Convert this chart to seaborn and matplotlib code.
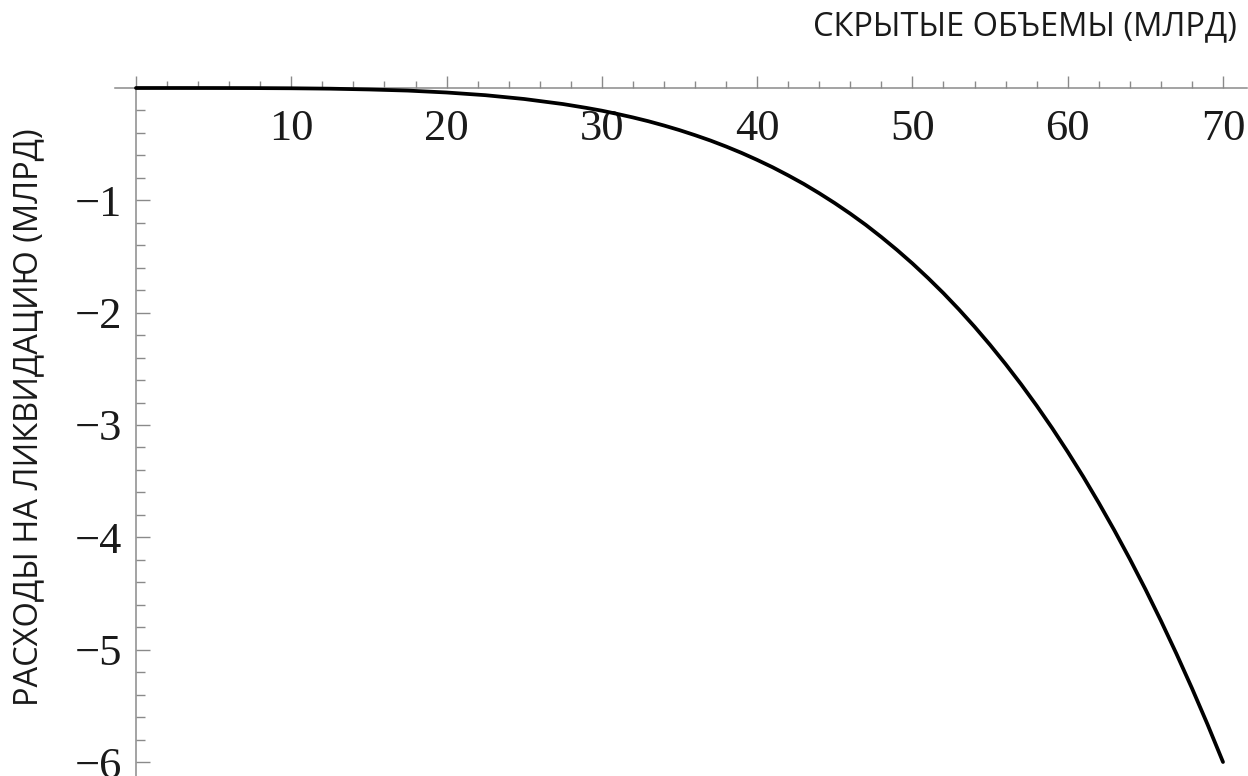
import numpy as np
import pandas as pd
import matplotlib
matplotlib.use("Agg")
import matplotlib.pyplot as plt
import seaborn as sns
from matplotlib.ticker import MultipleLocator, FixedLocator

# Data
hidden_volume = [0, 2.5, 5, 7.5, 10, 12.5, 15, 17.5, 20, 22.5, 25, 27.5, 29,
                 30, 31, 32, 33, 34, 35, 36, 37, 38, 39, 40, 41, 42, 43, 44, 45,
                 46, 47, 48, 49, 50, 51, 52, 53, 54, 55, 56, 57, 58, 59, 60,
                 61, 62, 63, 64, 65, 66, 67, 68, 69, 70]
liquidation_cost = [0.0, 0.0, -0.0002, -0.0008, -0.0025, -0.006, -0.013, -0.023, -0.040,
                    -0.064, -0.098, -0.143, -0.177,
                    -0.202, -0.231, -0.262, -0.296, -0.334, -0.375, -0.420, -0.468,
                    -0.521, -0.578, -0.640, -0.706, -0.778, -0.854, -0.937, -1.025,
                    -1.119, -1.219, -1.327, -1.441, -1.562, -1.691, -1.827, -1.972,
                    -2.125, -2.287, -2.458, -2.638, -2.828, -3.028, -3.239,
                    -3.460, -3.693, -3.937, -4.193, -4.461, -4.742, -5.036, -5.343,
                    -5.664, -6.0]
x_tick_values = [10, 20, 30, 40, 50, 60, 70]
y_tick_values = [-1, -2, -3, -4, -5, -6]
x_label = "СКРЫТЫЕ ОБЪЕМЫ (МЛРД)"
y_label = "РАСХОДЫ НА ЛИКВИДАЦИЮ (МЛРД)"

df = pd.DataFrame({"x": hidden_volume, "y": liquidation_cost})

sns.set_style("white")
plt.rcParams['font.family'] = ['Open Sans', 'DejaVu Sans']

W, H = 1248, 776
fig = plt.figure(figsize=(W / 100, H / 100), dpi=100)
ax_left, ax_right = 115, 1247
ax_top, ax_bot = 75, 776
ax = fig.add_axes([ax_left / W, 1 - ax_bot / H, (ax_right - ax_left) / W, (ax_bot - ax_top) / H])

sns.lineplot(data=df, x="x", y="y", ax=ax, color="black", linewidth=2.7, zorder=5)

# limits so that x=0 -> px136, x=70 -> px1223; y=0 -> px88, y=-6 -> px762
px_per_x = (1223 - 136) / 70
px_per_y = (762 - 88) / 6
ax.set_xlim(-(136 - ax_left) / px_per_x, 70 + (ax_right - 1223) / px_per_x)
ax.set_ylim(-(ax_bot - 88) / px_per_y, (88 - ax_top) / px_per_y)

axis_col = "#8a8a8a"
for s in ["top", "right"]:
    ax.spines[s].set_visible(False)
ax.spines["left"].set_position(("data", 0))
ax.spines["bottom"].set_position(("data", 0))
for s in ["left", "bottom"]:
    ax.spines[s].set_color(axis_col)
    ax.spines[s].set_linewidth(1.1)
ax.spines["left"].set_bounds(ax.get_ylim()[0], 0)

ax.xaxis.set_major_locator(FixedLocator([0] + x_tick_values))
ax.xaxis.set_minor_locator(MultipleLocator(2))
ax.yaxis.set_major_locator(FixedLocator([0] + y_tick_values))
ax.yaxis.set_minor_locator(MultipleLocator(0.2))
ax.set_xticklabels([""] + [str(v) for v in x_tick_values])
ax.set_yticklabels([""] + ["\u2212" + str(-v) for v in y_tick_values])

ax.tick_params(which="both", bottom=True, left=True, top=False, right=False)
serif = ['Liberation Serif', 'DejaVu Serif']
ax.tick_params(axis="x", which="major", direction="in", length=8.8, width=1.0,
               color=axis_col, pad=15, labelsize=32, labelcolor="#1a1a1a")
ax.tick_params(axis="x", which="minor", direction="in", length=5.0, width=1.0, color=axis_col)
ax.tick_params(axis="y", which="major", direction="in", length=10, width=1.0,
               color=axis_col, pad=10, labelsize=32, labelcolor="#1a1a1a")
ax.tick_params(axis="y", which="minor", direction="in", length=6.5, width=1.0, color=axis_col)
for lab in ax.get_xticklabels() + ax.get_yticklabels():
    lab.set_family(serif)

ax.set_xlabel("")
ax.set_ylabel("")
fig.text(1237 / W, 1 - 27 / H, x_label, ha="right", va="center", fontsize=23.5,
         color="#1a1a1a", family=['Open Sans', 'DejaVu Sans'])
fig.text(29 / W, 1 - 417 / H, y_label, ha="center", va="center", rotation=90,
         fontsize=23.5, color="#1a1a1a", family=['Open Sans', 'DejaVu Sans'])

fig.savefig("out.png", dpi=100)
